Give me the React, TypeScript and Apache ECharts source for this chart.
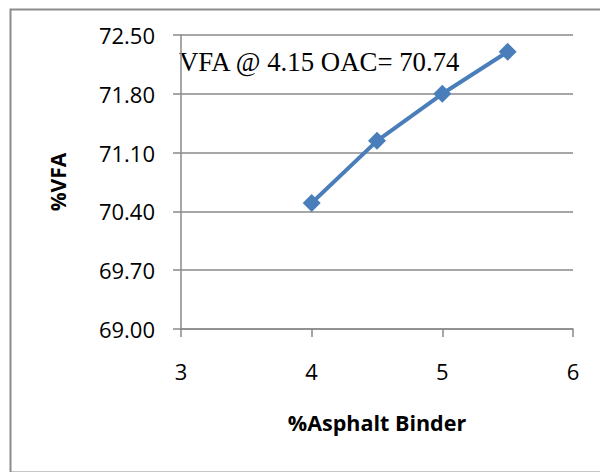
import React, { useEffect, useRef } from "react";
import * as echarts from "echarts";

// Percent asphalt binder vs. voids filled with asphalt
const binderContent = [4, 4.5, 5, 5.5];
const vfaValues = [70.5, 71.24, 71.8, 72.3];
const xAxisTitle = "%Asphalt Binder";
const yAxisTitle = "%VFA";
const oacNote = "VFA @ 4.15 OAC= 70.74";

const GRID_GRAY = "#8a8a8a";
const SERIES_BLUE = "#4a7ebb";
const TICK_FONT = "'Open Sans'";

export default function App() {
  const ref = useRef<HTMLDivElement>(null);

  useEffect(() => {
    if (!ref.current) return;
    const chart = echarts.init(ref.current, undefined, { renderer: "svg" });
    chart.setOption({
      animation: false,
      backgroundColor: "#ffffff",
      grid: { left: 181, right: 27, top: 35, bottom: 143, containLabel: false },
      xAxis: {
        type: "value",
        min: 3,
        max: 6,
        interval: 1,
        name: xAxisTitle,
        nameLocation: "middle",
        nameGap: 82,
        nameTextStyle: { fontFamily: TICK_FONT, fontWeight: "bold", fontSize: 21.5, color: "#000" },
        axisLine: { show: true, lineStyle: { color: GRID_GRAY, width: 1.5 } },
        axisTick: { show: true, length: 8, lineStyle: { color: GRID_GRAY, width: 1.5 } },
        axisLabel: { margin: 31, fontFamily: TICK_FONT, fontSize: 22, color: "#000" },
        splitLine: { show: false },
      },
      yAxis: {
        type: "value",
        min: 69,
        max: 72.5,
        interval: 0.7,
        name: yAxisTitle,
        nameLocation: "middle",
        nameGap: 113,
        nameRotate: 90,
        nameTextStyle: { fontFamily: TICK_FONT, fontWeight: "bold", fontSize: 21, color: "#000" },
        axisLine: { show: true, lineStyle: { color: GRID_GRAY, width: 1.5 } },
        axisTick: { show: true, length: 8, lineStyle: { color: GRID_GRAY, width: 1.5 } },
        axisLabel: {
          margin: 26,
          fontFamily: TICK_FONT,
          fontSize: 22,
          color: "#000",
          formatter: (v: number) => v.toFixed(2),
        },
        splitLine: { show: true, lineStyle: { color: GRID_GRAY, width: 1.5 } },
      },
      series: [
        {
          type: "line",
          data: binderContent.map((x, i) => [x, vfaValues[i]]),
          symbol: "diamond",
          symbolSize: 18,
          itemStyle: { color: SERIES_BLUE },
          lineStyle: { color: SERIES_BLUE, width: 4 },
        },
      ],
      graphic: [
        {
          type: "rect",
          left: 8,
          top: 7,
          shape: { x: 0, y: 0, width: 700, height: 463 },
          style: { fill: "none", stroke: "#8c8c8c", lineWidth: 2 },
          silent: true,
        },
        {
          type: "text",
          x: 179,
          y: 62,
          style: {
            text: oacNote,
            font: "26.8px 'Liberation Serif', 'Times New Roman', serif",
            fill: "#000",
            textVerticalAlign: "middle",
          },
          silent: true,
        },
      ],
    });
    return () => chart.dispose();
  }, []);

  return (
    <div
      ref={ref}
      style={{ position: "fixed", left: 0, top: 0, width: 600, height: 472 }}
    />
  );
}
